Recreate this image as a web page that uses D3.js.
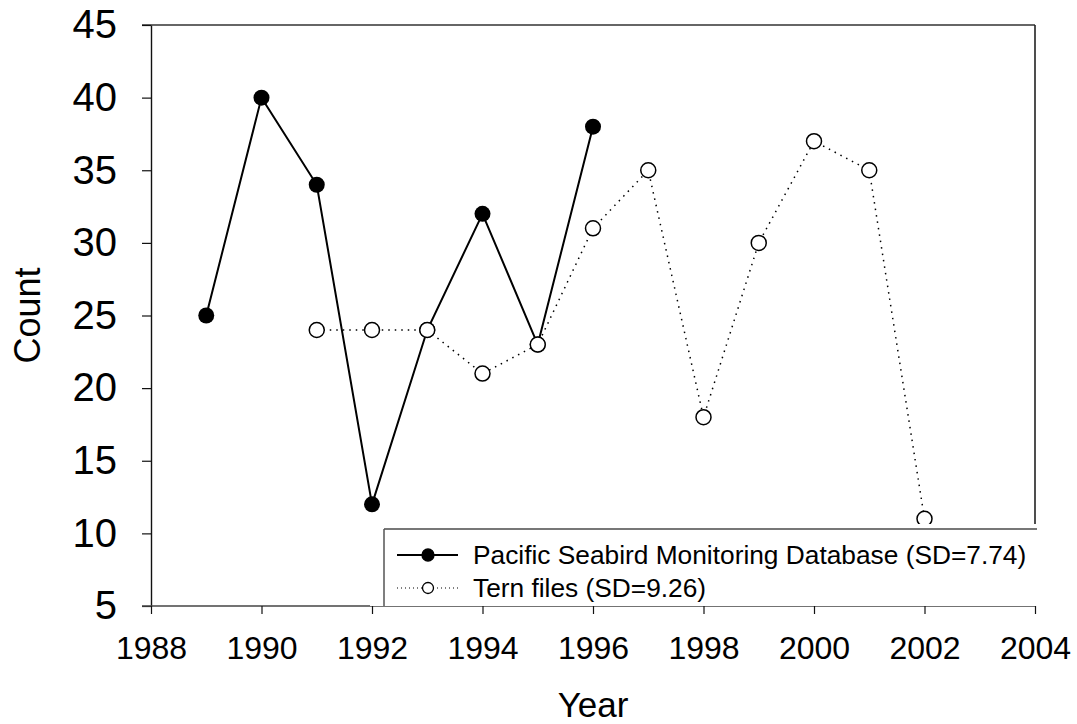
<!DOCTYPE html>
<html>
<head>
<meta charset="utf-8">
<script src="https://cdn.jsdelivr.net/npm/d3@7"></script>
<style>
  html, body { margin: 0; padding: 0; background: #fff; }
  svg { display: block; font-family: "Liberation Sans", Arial, sans-serif; }
</style>
</head>
<body>
<svg id="chart" width="1077" height="724"></svg>
<script>
// Annual counts from two record sources
const psmdYears  = [1989, 1990, 1991, 1992, 1993, 1994, 1995, 1996];
const psmdCounts = [25, 40, 34, 12, 24, 32, 23, 38];

const ternYears  = [1991, 1992, 1993, 1994, 1995, 1996, 1997, 1998, 1999, 2000, 2001, 2002];
const ternCounts = [24, 24, 24, 21, 23, 31, 35, 18, 30, 37, 35, 11];

const xTicks = [1988, 1990, 1992, 1994, 1996, 1998, 2000, 2002, 2004];
const yTicks = [5, 10, 15, 20, 25, 30, 35, 40, 45];

const legendLabels = [
  "Pacific Seabird Monitoring Database (SD=7.74)",
  "Tern files (SD=9.26)"
];

(function draw() {
  const svg = d3.select("#chart");

  const plotL = 151, plotR = 1035, plotT = 25, plotB = 606;

  const x = d3.scaleLinear().domain([1988, 2004]).range([plotL, plotR]);
  const y = d3.scaleLinear().domain([5, 45]).range([plotB, plotT]);

  const psmd = psmdYears.map((yr, i) => ({ x: yr, y: psmdCounts[i] }));
  const tern = ternYears.map((yr, i) => ({ x: yr, y: ternCounts[i] }));

  // Frame: top and right edges
  svg.append("line").attr("x1", plotL - 9).attr("x2", plotR).attr("y1", plotT).attr("y2", plotT)
    .attr("stroke", "#666").attr("stroke-width", 2);
  svg.append("line").attr("x1", plotR).attr("x2", plotR).attr("y1", plotT).attr("y2", plotB)
    .attr("stroke", "#222").attr("stroke-width", 1.6);

  // Y axis
  const yAxis = svg.append("g").attr("transform", `translate(${plotL},0)`)
    .call(d3.axisLeft(y).tickValues(yTicks).tickSize(9).tickPadding(25).tickSizeOuter(0));
  yAxis.select(".domain").attr("stroke", "#111").attr("stroke-width", 1.4);
  yAxis.selectAll(".tick line").attr("stroke", "#111").attr("stroke-width", 1.2);
  yAxis.selectAll(".tick text").attr("font-size", 40).attr("fill", "#000")
    .attr("font-family", "Liberation Sans, Arial, sans-serif");

  // X axis
  const xAxis = svg.append("g").attr("transform", `translate(0,${plotB})`)
    .call(d3.axisBottom(x).tickValues(xTicks).tickFormat(d3.format("d"))
      .tickSize(8).tickPadding(22).tickSizeOuter(0));
  xAxis.select(".domain").attr("stroke", "#444").attr("stroke-width", 1.6)
    .attr("d", `M${plotL - 9},0H${plotR}`);
  xAxis.selectAll(".tick line").attr("stroke", "#111").attr("stroke-width", 1.2);
  xAxis.selectAll(".tick text").attr("font-size", 32).attr("fill", "#000")
    .attr("font-family", "Liberation Sans, Arial, sans-serif");

  const line = d3.line().x(d => x(d.x)).y(d => y(d.y));

  // Pacific Seabird Monitoring Database: solid line, filled dots
  svg.append("path").datum(psmd).attr("d", line)
    .attr("fill", "none").attr("stroke", "#000").attr("stroke-width", 2);
  svg.append("g").selectAll("circle").data(psmd).join("circle")
    .attr("cx", d => x(d.x)).attr("cy", d => y(d.y)).attr("r", 8).attr("fill", "#000");

  // Tern files: dotted line, open dots
  svg.append("path").datum(tern).attr("d", line)
    .attr("fill", "none").attr("stroke", "#000").attr("stroke-width", 1.5)
    .attr("stroke-dasharray", "1.5,5");
  svg.append("g").selectAll("circle").data(tern).join("circle")
    .attr("cx", d => x(d.x)).attr("cy", d => y(d.y)).attr("r", 7.5)
    .attr("fill", "#fff").attr("stroke", "#000").attr("stroke-width", 1.5);

  // Legend box
  const lg = svg.append("g");
  lg.append("rect").attr("x", 370).attr("y", 524).attr("width", 670).attr("height", plotB - 524)
    .attr("fill", "#fff");
  lg.append("line").attr("x1", 384).attr("x2", 1037).attr("y1", 529).attr("y2", 529)
    .attr("stroke", "#777").attr("stroke-width", 2);
  lg.append("line").attr("x1", 384).attr("x2", 384).attr("y1", 529).attr("y2", plotB)
    .attr("stroke", "#555").attr("stroke-width", 1.5);

  const rows = [555, 588];
  const styles = [
    { dash: null, width: 2, fill: "#000", r: 6 },
    { dash: "1,3", width: 1.2, fill: "#fff", r: 5.5 }
  ];
  legendLabels.forEach((label, i) => {
    const s = styles[i];
    const ln = lg.append("line").attr("x1", 397).attr("x2", 458)
      .attr("y1", rows[i]).attr("y2", rows[i])
      .attr("stroke", "#000").attr("stroke-width", s.width);
    if (s.dash) ln.attr("stroke-dasharray", s.dash);
    lg.append("circle").attr("cx", 428).attr("cy", rows[i]).attr("r", s.r)
      .attr("fill", s.fill).attr("stroke", "#000").attr("stroke-width", 1.3);
    lg.append("text").attr("x", 473).attr("y", rows[i]).attr("dy", "0.35em")
      .attr("font-size", 26.3).attr("fill", "#000").text(label);
  });

  // Axis titles
  svg.append("text").attr("transform", `translate(40,${(plotT + plotB) / 2}) rotate(-90)`)
    .attr("text-anchor", "middle").attr("font-size", 36).attr("fill", "#000").text("Count");
  svg.append("text").attr("x", (plotL + plotR) / 2).attr("y", 717)
    .attr("text-anchor", "middle").attr("font-size", 35).attr("fill", "#000").text("Year");
})();
</script>
</body>
</html>
